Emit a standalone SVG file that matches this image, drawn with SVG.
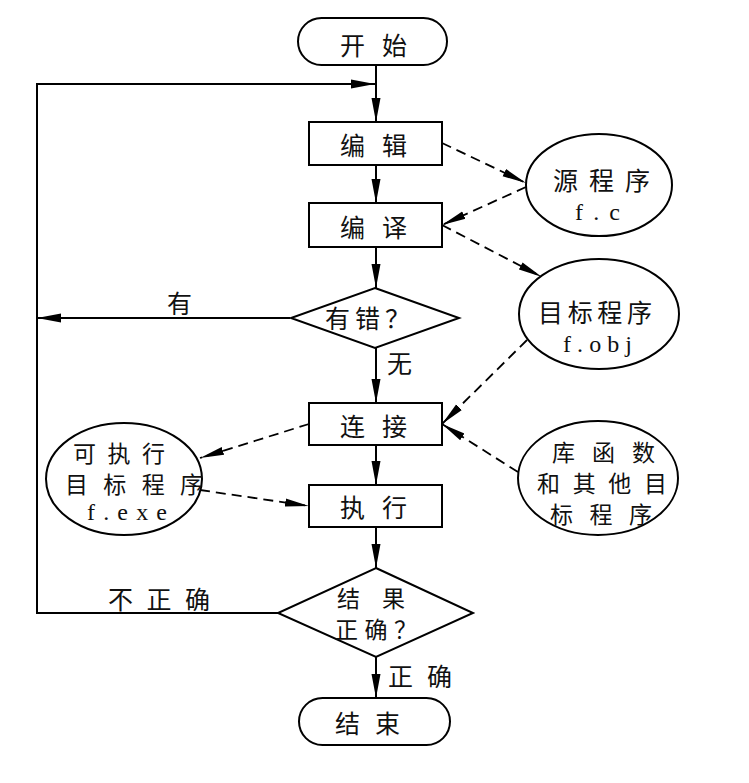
<svg xmlns="http://www.w3.org/2000/svg" width="749" height="783" viewBox="0 0 749 783">
<defs>
<marker id="ah" markerUnits="userSpaceOnUse" markerWidth="26" markerHeight="10" refX="24" refY="5" orient="auto"><path d="M0,0.5 L24,5 L0,9.5 z" fill="#000"/></marker>
<marker id="dh" markerUnits="userSpaceOnUse" markerWidth="26" markerHeight="10" refX="24" refY="5" orient="auto"><path d="M0,1 L24,5 L0,9 z" fill="#000"/></marker>
<style>
.box{fill:#fff;stroke:#000;stroke-width:2}
.ln{fill:none;stroke:#000;stroke-width:2}
.ds{fill:none;stroke:#000;stroke-width:1.8;stroke-dasharray:10 6}
.t{font-family:"Noto Sans CJK SC",sans-serif;font-size:25px;fill:#111;dominant-baseline:central}
.s{font-family:"Noto Sans CJK SC",sans-serif;font-size:23px;fill:#111;dominant-baseline:central}
.l{font-family:"Liberation Serif",serif;font-size:24px;fill:#111;dominant-baseline:central}
</style>
</defs>
<rect width="749" height="783" fill="#fff"/>
<g id="connectors">
<path class="ln" d="M376,65 V122" marker-end="url(#ah)"/>
<path class="ln" d="M376,165 V203" marker-end="url(#ah)"/>
<path class="ln" d="M376,247 V288" marker-end="url(#ah)"/>
<path class="ln" d="M376,348 V403" marker-end="url(#ah)"/>
<path class="ln" d="M376,445 V485" marker-end="url(#ah)"/>
<path class="ln" d="M376,527 V568" marker-end="url(#ah)"/>
<path class="ln" d="M376,657 V698" marker-end="url(#ah)"/>
<path class="ln" d="M290,318 H37" marker-end="url(#ah)"/>
<path class="ln" d="M278,613 H37 V84 H375" marker-end="url(#ah)"/>
<path class="ds" d="M442,143 L526,183" marker-end="url(#dh)"/>
<path class="ds" d="M526,187 L442,225" marker-end="url(#dh)"/>
<path class="ds" d="M442,225 L542,277" marker-end="url(#dh)"/>
<path class="ds" d="M527,340 L442,424" marker-end="url(#dh)"/>
<path class="ds" d="M518,472 L442,424" marker-end="url(#dh)"/>
<path class="ds" d="M309,424 L200,458" marker-end="url(#dh)"/>
<path class="ds" d="M200,490 L309,506" marker-end="url(#dh)"/>
<text class="t" x="167" y="302" textLength="26">有</text>
<text class="t" x="387" y="362" textLength="30">无</text>
<text class="t" x="108" y="598" textLength="102">不正确</text>
<text class="t" x="388" y="675" textLength="64">正确</text>
</g>
<g id="start">
<rect class="box" x="298" y="18" width="149" height="47" rx="23.5"/>
<text class="t" x="340" y="44" textLength="67">开始</text>
</g>
<g id="edit">
<rect class="box" x="309" y="122" width="133" height="43"/>
<text class="t" x="340" y="144" textLength="67">编辑</text>
</g>
<g id="compile">
<rect class="box" x="309" y="203" width="133" height="44"/>
<text class="t" x="340" y="226" textLength="67">编译</text>
</g>
<g id="source">
<ellipse class="box" cx="599" cy="185" rx="73" ry="51"/>
<text class="t" x="553" y="179" textLength="97">源程序</text>
<text class="l" x="575" y="212" textLength="45">f.c</text>
</g>
<g id="object">
<ellipse class="box" cx="599" cy="314" rx="80" ry="55"/>
<text class="t" x="538" y="311" textLength="114">目标程序</text>
<text class="l" x="563" y="344" textLength="69">f.obj</text>
</g>
<g id="haserror">
<polygon class="box" points="375,288 459,318 375,348 291,318"/>
<text class="t" x="325" y="317" textLength="85">有错？</text>
</g>
<g id="link">
<rect class="box" x="309" y="403" width="133" height="42"/>
<text class="t" x="340" y="425" textLength="67">连接</text>
</g>
<g id="run">
<rect class="box" x="309" y="485" width="133" height="42"/>
<text class="t" x="340" y="506" textLength="67">执行</text>
</g>
<g id="exe">
<ellipse class="box" cx="124" cy="479" rx="78" ry="56"/>
<text class="s" x="73" y="452" textLength="92">可执行</text>
<text class="s" x="65" y="483" textLength="138">目标程序</text>
<text class="l" x="87" y="512" textLength="80" font-size="22">f.exe</text>
</g>
<g id="lib">
<ellipse class="box" cx="598" cy="478" rx="80" ry="57"/>
<text class="s" x="552" y="451" textLength="103">库函数</text>
<text class="s" x="537" y="482" textLength="130">和其他目</text>
<text class="s" x="550" y="513" textLength="102">标程序</text>
</g>
<g id="correct">
<polygon class="box" points="376,568 473,613 376,657 278,613"/>
<text class="s" x="337" y="597" textLength="68">结果</text>
<text class="s" x="335" y="628" textLength="82">正确？</text>
</g>
<g id="end">
<rect class="box" x="299" y="698" width="151" height="47" rx="23.5"/>
<text class="t" x="335" y="722" textLength="65">结束</text>
</g>
</svg>
